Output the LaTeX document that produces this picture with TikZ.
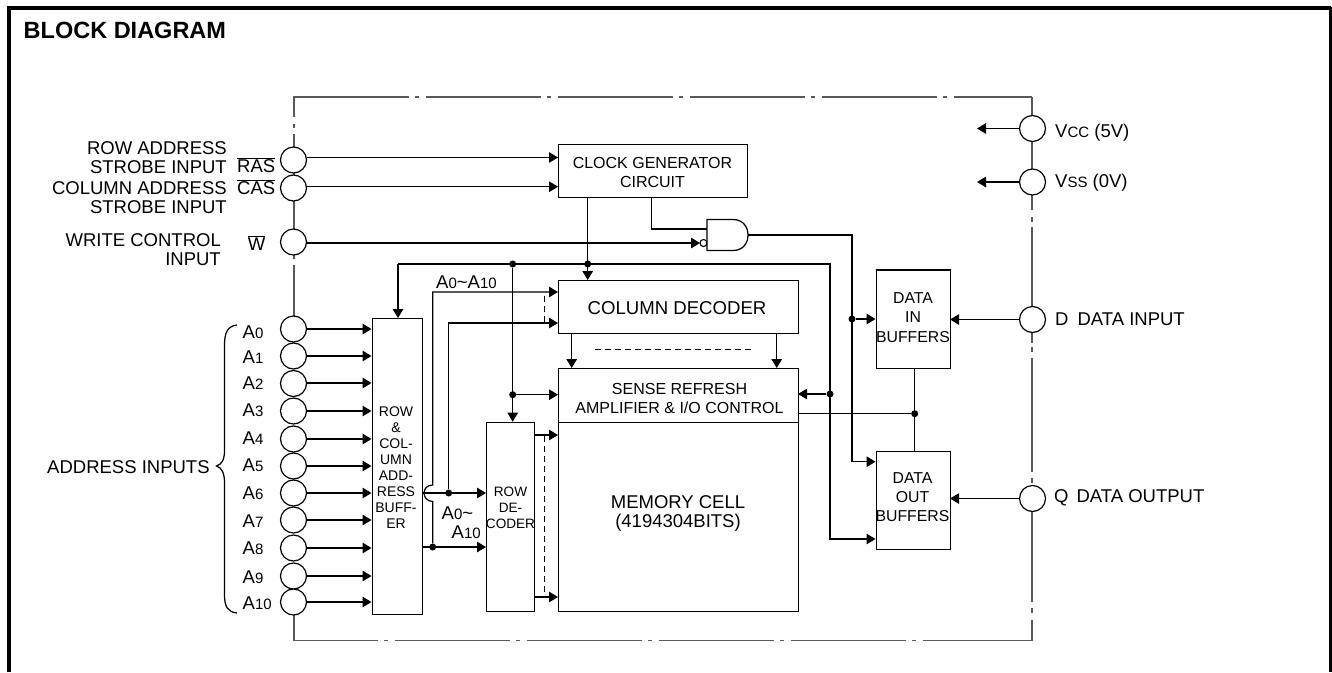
\documentclass[tikz,border=0pt]{standalone}
\usepackage{fontspec}
\setmainfont{Liberation Sans}
\usetikzlibrary{arrows.meta}
\newcommand{\sm}[1]{{\fontsize{15}{15}\selectfont #1}}
\newcommand{\ovl}[1]{$\overline{\mbox{#1}}$}
\tikzset{
  x=1pt,y=-1pt,
  wire/.style={draw=black,line width=1.25pt},
  arr/.style={wire,-{Triangle[length=9pt,width=10.5pt]}},
  frameline/.style={draw=black!65,line width=1.3pt},
  fdash/.style={frameline,dash pattern=on 115pt off 6pt on 4pt off 7pt},
  pin/.style={circle,draw=black,fill=white,line width=1.2pt,minimum size=26pt,inner sep=0pt},
  blockbox/.style={draw=black,fill=white,line width=1.25pt,inner sep=0pt,anchor=north west,align=center},
  txt/.style={inner sep=0pt,font=\fontsize{18.5}{19}\selectfont,align=center},
  stxt/.style={inner sep=0pt,font=\fontsize{16}{18.5}\selectfont,align=center},
  dotj/.style={circle,fill=black,inner sep=0pt,minimum size=7pt},
  dashw/.style={draw=black,line width=1pt,dash pattern=on 6pt off 4pt},
}
\begin{document}
\begin{tikzpicture}
\useasboundingbox (0,0) rectangle (1332,672);
\fill[white] (0,0) rectangle (1332,672);
\draw[black,line width=3.5pt] (8.8,672) -- (8.8,7.8) -- (1331,7.8);
\draw[black,line width=2.5pt] (1330.5,7) -- (1330.5,672);
\node[anchor=west,inner sep=0pt,font=\bfseries\fontsize{23.5}{25}\selectfont] (title) at (23.5,30) {BLOCK DIAGRAM};

% dash-dot frame
\coordinate (ftl) at (294,97);
\coordinate (ftr) at (1032,97);
\coordinate (fbl) at (294,640.5);
\coordinate (fbr) at (1032,640.5);
\draw[fdash,line width=1.7pt] (ftl) -- (ftr);
\draw[fdash,dash phase=31pt] (fbl) -- (fbr);
\draw[frameline] (294,96.2) -- (294,117) (294,124) -- (294,128) (294,134) -- (294,150)
  (294,170) -- (294,232) (294,252) -- (294,259) (294,265) -- (294,320)
  (294,610) -- (fbl);
\draw[frameline] (1032,97) -- (1032,118) (1032,140) -- (1032,170) (1032,194) -- (1032,210)
  (1032,217) -- (1032,222) (1032,227) -- (1032,310)
  (1032,330) -- (1032,343) (1032,347) -- (1032,352) (1032,358) -- (1032,472)
  (1032,478) -- (1032,483) (1032,510) -- (1032,602) (1032,608) -- (1032,613) (1032,620) -- (fbr);

% pins
\node[pin] (pras) at (293.5,160) {};
\node[pin] (pcas) at (293.5,188) {};
\node[pin] (pw) at (293.5,242) {};
\node[pin] (p0) at (293.5,329) {};
\node[pin] (p1) at (293.5,356) {};
\node[pin] (p2) at (293.5,383.5) {};
\node[pin] (p3) at (293.5,411) {};
\node[pin] (p4) at (293.5,439) {};
\node[pin] (p5) at (293.5,466) {};
\node[pin] (p6) at (293.5,493) {};
\node[pin] (p7) at (293.5,520) {};
\node[pin] (p8) at (293.5,548) {};
\node[pin] (p9) at (293.5,576) {};
\node[pin] (p10) at (293.5,602) {};
\node[pin] (pvcc) at (1032.5,128.5) {};
\node[pin] (pvss) at (1032.5,182) {};
\node[pin] (pd) at (1032.5,319.5) {};
\node[pin] (pq) at (1032.5,498.5) {};

% boxes
\node[blockbox,minimum width=189pt,minimum height=53pt] (clock) at (558,144) {};
\node[stxt] at (652.5,172.5) {CLOCK GENERATOR\\CIRCUIT};
\node[blockbox,minimum width=240pt,minimum height=53pt] (coldec) at (558,280) {};
\node[txt,font=\fontsize{18.6}{19}\selectfont] at (677,308) {COLUMN DECODER};
\node[blockbox,minimum width=240pt,minimum height=53.5pt] (sense) at (558,368) {};
\node[stxt] at (679.5,398.5) {SENSE REFRESH\\AMPLIFIER \& I/O CONTROL};
\node[blockbox,minimum width=240pt,minimum height=189pt] (mem) at (558,421.5) {};
\node[txt] at (678,513) {MEMORY CELL\\(4194304BITS)};
\node[blockbox,minimum width=50pt,minimum height=296pt] (buf) at (371.5,318) {};
\node[stxt,font=\fontsize{14}{16}\selectfont] at (396,468) {ROW\\\&\\COL-\\UMN\\ADD-\\RESS\\BUFF-\\ER};
\node[blockbox,minimum width=48pt,minimum height=189pt] (rowdec) at (486,421.7) {};
\node[stxt,font=\fontsize{13.6}{16}\selectfont] at (510.5,508) {ROW\\DE-\\CODER};
\node[blockbox,minimum width=74.5pt,minimum height=98.5pt] (din) at (875.5,269.3) {};
\node[stxt,font=\fontsize{15.8}{19.4}\selectfont] at (913,317.5) {DATA\\IN\\BUFFERS};
\node[blockbox,minimum width=74.5pt,minimum height=98.5pt] (dout) at (875.5,450.7) {};
\node[stxt,font=\fontsize{15.8}{19}\selectfont] at (912.5,497.5) {DATA\\OUT\\BUFFERS};

% control inputs
\draw[arr] (pras.east |- 0,157.5) -- (clock.west |- 0,157.5);
\draw[arr] (pcas.east |- 0,186.7) -- (clock.west |- 0,186.7);
\coordinate (gin) at (700,243);
\draw[arr] (pw.east |- gin) -- (gin);
\node[circle,draw=black,fill=white,line width=1.1pt,minimum size=7pt,inner sep=0pt] (bub) at (703.5,243) {};
% AND gate
\draw[wire,fill=white] (707,219.5) -- (733,219.5) .. controls (743,219.5) and (748,227) .. (748,235)
  .. controls (748,243) and (743,250.5) .. (733,250.5) -- (707,250.5) -- cycle;
\coordinate (gout) at (748,235);
\coordinate (c1) at (651.7,197);
\coordinate (c1b) at (651.7,229);
\draw[wire] (c1) -- (c1b) -- (707,229);
\draw[arr] (gout) -- (852,235) -- (852,461.7) -- (875.5,461.7);
\node[dotj] (j1) at (852,319) {};
\draw[arr] (j1) -- (din.west |- j1);

% clock to column decoder & bus
\node[dotj] (j2) at (587.7,264) {};
\draw[arr] (587.7,197) -- (587.7,280);
\node[dotj] (j3) at (512.7,264) {};
\draw[arr] (398,264) -- (830,264) -- (830,539) -- (875.5,539);
\draw[arr] (398,264) -- (398,318);
\node[dotj] (j4) at (830,394) {};
\draw[arr] (j4) -- (798,394);
\node[dotj] (j5) at (512.7,394.7) {};
\draw[arr] (j3) -- (512.7,421.7);
\draw[arr] (j5) -- (558,394.7);

% address inputs
\foreach \n/\y in {0/329,1/356,2/383,3/411,4/439,5/466,6/493,7/520,8/548,9/576,10/602}
  \draw[arr] (p\n.east |- 0,\y) -- (buf.west |- 0,\y);

% buffer outputs
\node[dotj] (j6) at (448.7,493) {};
\node[dotj] (j7) at (432.7,547) {};
\draw[arr] (421.5,493) -- (486,493);
\draw[arr] (421.5,547) -- (486,547);
\draw[arr] (j6) -- (448.7,323) -- (558,323);
\draw[arr] (j7) -- (432.7,501.5) .. controls (427,501.5) and (424,497) .. (424,493)
  .. controls (424,489) and (427,485) .. (432.7,485) -- (432.7,292) -- (558,292);
\draw[dashw] (544.7,296) -- (544.7,323);
\draw[arr] (534,435) -- (558,435);
\draw[arr] (534,597) -- (558,597);
\draw[dashw] (544.7,436) -- (544.7,597);
\draw[arr] (571.7,333) -- (571.7,368);
\draw[arr] (776.7,333) -- (776.7,368);
\draw[dashw] (595,349) -- (751,349);

% data
\node[dotj] (j8) at (914.7,413.7) {};
\draw[wire] (798,413.7) -- (j8);
\draw[wire] (din.south -| j8) -- (dout.north -| j8);
\draw[arr] (pd.west) -- (950,319.5);
\draw[arr] (pq.west) -- (950,498.5);
\draw[arr] (pvcc.west) -- (977,128.5);
\draw[arr] (pvss.west) -- (977,182);

% labels
\node[txt,align=right,anchor=east] (lras) at (227,157.5) {ROW ADDRESS\\STROBE INPUT};
\node[txt,align=right,anchor=east] (lcas) at (227,197.5) {COLUMN ADDRESS\\STROBE INPUT};
\node[txt,align=right,anchor=east] (lw) at (221,250) {WRITE CONTROL\\INPUT};
\node[txt,anchor=west] (nras) at (237,165) {\ovl{RAS}};
\node[txt,anchor=west] (ncas) at (237,187) {\ovl{CAS}};
\node[txt,anchor=center] (nw) at (256.5,243) {\ovl{W}};
\foreach \n/\y in {0/332,1/357,2/383,3/410,4/438,5/465,6/493,7/521,8/548,9/577}
  \node[txt,anchor=west] at (242.5,\y) {A\sm{\n}};
\node[txt,anchor=west] at (242.5,603) {A\sm{10}};
\node[txt,anchor=west] (lai) at (47,467) {ADDRESS INPUTS};
\draw[wire] (237,325) .. controls (228,326) and (224.5,332) .. (224.5,345) -- (224.5,450)
  .. controls (224.5,460) and (222,464) .. (216.5,466)
  .. controls (222,468) and (224.5,473) .. (224.5,483) -- (224.5,595)
  .. controls (224.5,607) and (228,612) .. (237,613);
\node[txt,anchor=west] (la1) at (436,282) {A\sm{0}\symbol{`\~}A\sm{10}};
\node[txt,anchor=west] (la2) at (441.5,513) {A\sm{0}\symbol{`\~}};
\node[txt,anchor=west] (la3) at (451.5,532) {A\sm{10}};
\node[txt,anchor=west] (lvcc) at (1055,132.5) {V\sm{CC} (5V)};
\node[txt,anchor=west] (lvss) at (1055,182.5) {V\sm{SS} (0V)};
\node[txt,anchor=west] (ld) at (1055,319) {D\hspace{9pt}DATA INPUT};
\node[txt,anchor=west] (lq) at (1054,498) {Q\hspace{8pt}DATA OUTPUT};
\end{tikzpicture}
\end{document}
